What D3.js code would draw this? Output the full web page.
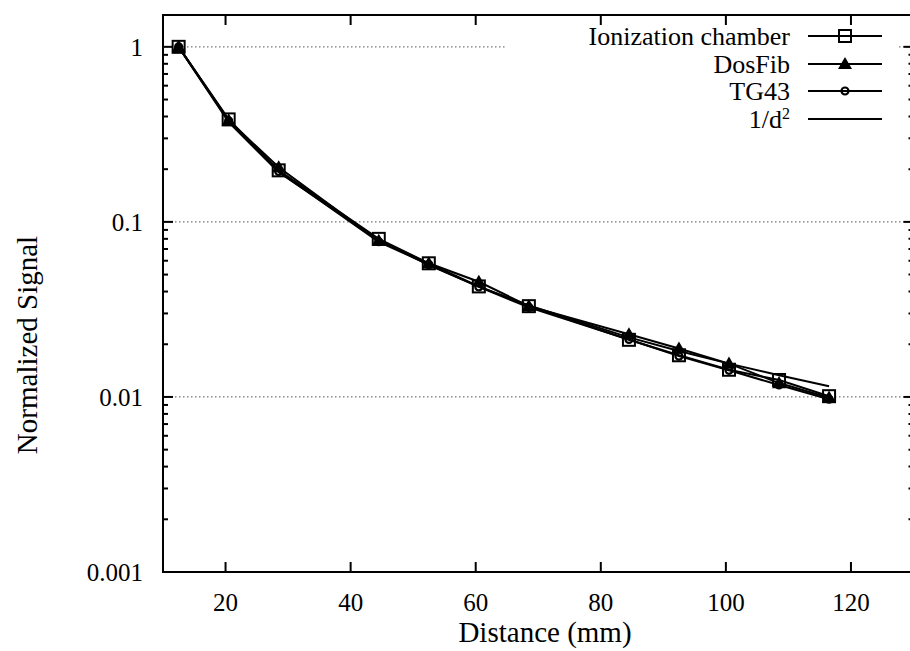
<!DOCTYPE html>
<html>
<head>
<meta charset="utf-8">
<script src="https://cdn.jsdelivr.net/npm/d3@7"></script>
<style>
  body { margin: 0; background: #fff; }
  svg text { font-family: "Liberation Serif", "Times New Roman", Times, "Nimbus Roman", "Noto Serif", "DejaVu Serif", FreeSerif, serif; }
</style>
</head>
<body>
<div id="chart"></div>
<script>
// distances in mm
const distances = [12.5, 20.5, 28.5, 44.5, 52.5, 60.5, 68.5, 84.5, 92.5, 100.5, 108.5, 116.5];

const ionization = [1, 0.385, 0.197, 0.080, 0.058, 0.0428, 0.0330, 0.0212, 0.0173, 0.0143, 0.0125, 0.0101];
const dosfib = [1, 0.380, 0.205, 0.078, 0.058, 0.0455, 0.0330, 0.0228, 0.0189, 0.0155, 0.0120, 0.0099];
const tg43 = [1, 0.378, 0.194, 0.077, 0.057, 0.0425, 0.0325, 0.0213, 0.0171, 0.0142, 0.0117, 0.0097];
const inverseSquare = [1, 0.372, 0.192, 0.0789, 0.0567, 0.0427, 0.0333, 0.0219, 0.0183, 0.0155, 0.0133, 0.0115];

const xTicks = [20, 40, 60, 80, 100, 120];
const yTicks = [1, 0.1, 0.01, 0.001];
const yTickLabels = ["1", "0.1", "0.01", "0.001"];

const seriesNames = ["Ionization chamber", "DosFib", "TG43", "1/d2"];
const seriesValues = [ionization, dosfib, tg43, inverseSquare];
const seriesMarkers = ["square", "triangle", "circle", "none"];

const width = 910, height = 651;
const margin = { left: 163, right: -3.5, top: 15, bottom: 79 };

const svg = d3.select('#chart')
    .append('svg')
    .attr('width', width)
    .attr('height', height);

const x = d3.scaleLinear()
    .domain([10, 130])
    .range([margin.left, width - margin.right]);

const y = d3.scaleLog()
    .domain([0.001, 1.52])
    .range([height - margin.bottom, margin.top]);

const x0 = x.range()[0], x1 = x.range()[1];
const y0 = y.range()[0], y1 = y.range()[1];

// grid lines (dotted)
svg.append('g')
    .selectAll('line')
    .data(yTicks.slice(0, 3))
    .join('line')
    .attr('x1', x0).attr('x2', x1)
    .attr('y1', d => y(d)).attr('y2', d => y(d))
    .attr('stroke', '#777')
    .attr('stroke-width', 1.3)
    .attr('stroke-dasharray', '1.5,2.5');

// minor ticks for the log axis
const minor = [];
[0.001, 0.01, 0.1, 1].forEach(dec => {
    for (let k = 2; k <= 9; k++) {
        const v = dec * k;
        if (v < y.domain()[1]) minor.push(v);
    }
});

const axes = svg.append('g').attr('stroke', '#000');

// left + right ticks
[[x0, 1], [x1, -1]].forEach(([px, dir]) => {
    axes.selectAll(null)
        .data(yTicks)
        .join('line')
        .attr('x1', px).attr('x2', px + dir * 10)
        .attr('y1', d => y(d)).attr('y2', d => y(d))
        .attr('stroke-width', 2);
    axes.selectAll(null)
        .data(minor)
        .join('line')
        .attr('x1', px).attr('x2', px + dir * 5)
        .attr('y1', d => y(d)).attr('y2', d => y(d))
        .attr('stroke-width', 2);
});

// bottom + top ticks
[[y0, -1], [y1, 1]].forEach(([py, dir]) => {
    axes.selectAll(null)
        .data(xTicks)
        .join('line')
        .attr('x1', d => x(d)).attr('x2', d => x(d))
        .attr('y1', py).attr('y2', py + dir * 10)
        .attr('stroke-width', 2);
});

// frame
svg.append('rect')
    .attr('x', x0).attr('y', y1)
    .attr('width', x1 - x0).attr('height', y0 - y1)
    .attr('fill', 'none')
    .attr('stroke', '#000')
    .attr('stroke-width', 2);

// tick labels
svg.append('g')
    .selectAll('text')
    .data(yTicks)
    .join('text')
    .attr('x', x0 - 20)
    .attr('y', d => y(d))
    .attr('dy', '0.35em')
    .attr('text-anchor', 'end')
    .attr('font-size', 25)
    .text((d, i) => yTickLabels[i]);

svg.append('g')
    .selectAll('text')
    .data(xTicks)
    .join('text')
    .attr('x', d => x(d))
    .attr('y', y0 + 39)
    .attr('text-anchor', 'middle')
    .attr('font-size', 25)
    .text(d => d);

// axis titles
svg.append('text')
    .attr('x', 545)
    .attr('y', 642)
    .attr('text-anchor', 'middle')
    .attr('font-size', 29)
    .text('Distance (mm)');

svg.append('text')
    .attr('transform', 'translate(37,345) rotate(-90)')
    .attr('text-anchor', 'middle')
    .attr('font-size', 29)
    .text('Normalized Signal');

// legend background hides the grid line
svg.append('rect')
    .attr('x', 505).attr('y', 26)
    .attr('width', 392).attr('height', 104)
    .attr('fill', '#fff');

// series
const line = d3.line()
    .x((d, i) => x(distances[i]))
    .y(d => y(d));

const symTriangle = d3.symbol().type(d3.symbolTriangle).size(85);

function drawMarker(g, type, px, py) {
    if (type === 'square') {
        g.append('rect')
            .attr('x', px - 6).attr('y', py - 6)
            .attr('width', 12).attr('height', 12)
            .attr('fill', 'none').attr('stroke', '#000').attr('stroke-width', 2);
    } else if (type === 'triangle') {
        g.append('path')
            .attr('d', symTriangle())
            .attr('transform', `translate(${px},${py + 1})`)
            .attr('fill', '#000');
    } else if (type === 'circle') {
        g.append('circle')
            .attr('cx', px).attr('cy', py).attr('r', 3.5)
            .attr('fill', 'none').attr('stroke', '#000').attr('stroke-width', 2.2);
    }
}

const plot = svg.append('g');
seriesValues.forEach(vals => {
    plot.append('path')
        .datum(vals)
        .attr('d', line)
        .attr('fill', 'none')
        .attr('stroke', '#000')
        .attr('stroke-width', 2);
});
seriesValues.forEach((vals, s) => {
    vals.forEach((v, i) => drawMarker(plot, seriesMarkers[s], x(distances[i]), y(v)));
});

// legend
const legendY = [36, 64, 91, 119];
const legend = svg.append('g');
seriesNames.forEach((name, s) => {
    const ly = legendY[s];
    const t = legend.append('text')
        .attr('x', 790)
        .attr('y', ly)
        .attr('dy', '0.33em')
        .attr('text-anchor', 'end')
        .attr('font-size', 26);
    if (name === '1/d2') {
        t.append('tspan').text('1/d');
        t.append('tspan').attr('font-size', 16).attr('dy', '-0.55em').text('2');
    } else {
        t.text(name);
    }
    legend.append('line')
        .attr('x1', 808).attr('x2', 882)
        .attr('y1', ly).attr('y2', ly)
        .attr('stroke', '#000').attr('stroke-width', 2);
    drawMarker(legend, seriesMarkers[s], 845, ly);
});
</script>
</body>
</html>
